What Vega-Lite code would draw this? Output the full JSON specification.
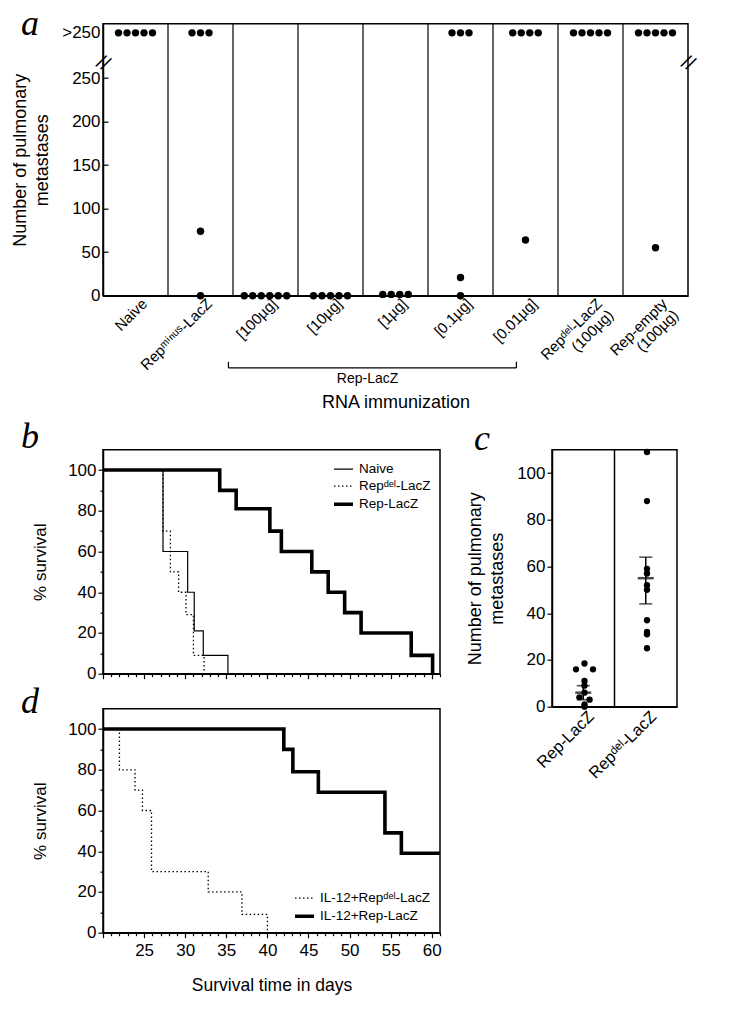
{
  "$schema": "https://vega.github.io/schema/vega-lite/v6.json",
  "background": "white",
  "padding": {"left": 10, "top": 4.7, "right": 10, "bottom": 10},
  "config": {
    "font": "Liberation Sans",
    "view": {"stroke": "black", "strokeWidth": 1.5},
    "axis": {"domainColor": "black", "domainWidth": 1.5, "tickColor": "black", "tickWidth": 1.2, "labelColor": "black", "titleColor": "black", "grid": false, "labelFont": "Liberation Sans", "titleFont": "Liberation Sans", "titleFontWeight": "normal", "labelFontSize": 17, "titleFontSize": 18, "labelOverlap": false, "labelFlush": false},
    "legend": {"labelFont": "Liberation Sans", "labelColor": "black", "labelFontSize": 13.5, "symbolType": "stroke", "symbolStrokeColor": "black", "symbolSize": 360, "rowPadding": 0, "labelOffset": 4, "padding": 0},
    "title": {"font": "Liberation Serif", "fontStyle": "italic", "fontWeight": "normal", "fontSize": 36, "anchor": "start", "frame": "group", "baseline": "alphabetic", "color": "black"}
  },
  "datasets": {
    "a_points": [
      {"group": "Naive", "n": 302, "slot": -2}, {"group": "Naive", "n": 302, "slot": -1}, {"group": "Naive", "n": 302, "slot": 0}, {"group": "Naive", "n": 302, "slot": 1}, {"group": "Naive", "n": 302, "slot": 2},
      {"group": "Repᵐⁱⁿᵘˢ-LacZ", "n": 302, "slot": -1}, {"group": "Repᵐⁱⁿᵘˢ-LacZ", "n": 302, "slot": 0}, {"group": "Repᵐⁱⁿᵘˢ-LacZ", "n": 302, "slot": 1}, {"group": "Repᵐⁱⁿᵘˢ-LacZ", "n": 74, "slot": 0}, {"group": "Repᵐⁱⁿᵘˢ-LacZ", "n": 0, "slot": 0},
      {"group": "[100µg]", "n": 0, "slot": -2.5}, {"group": "[100µg]", "n": 0, "slot": -1.5}, {"group": "[100µg]", "n": 0, "slot": -0.5}, {"group": "[100µg]", "n": 0, "slot": 0.5}, {"group": "[100µg]", "n": 0, "slot": 1.5}, {"group": "[100µg]", "n": 0, "slot": 2.5},
      {"group": "[10µg]", "n": 0, "slot": -2}, {"group": "[10µg]", "n": 0, "slot": -1}, {"group": "[10µg]", "n": 0, "slot": 0}, {"group": "[10µg]", "n": 0, "slot": 1}, {"group": "[10µg]", "n": 0, "slot": 2},
      {"group": "[1µg]", "n": 1.5, "slot": -1.5}, {"group": "[1µg]", "n": 1.5, "slot": -0.5}, {"group": "[1µg]", "n": 1.5, "slot": 0.5}, {"group": "[1µg]", "n": 1.5, "slot": 1.5},
      {"group": "[0.1µg]", "n": 302, "slot": -1}, {"group": "[0.1µg]", "n": 302, "slot": 0}, {"group": "[0.1µg]", "n": 302, "slot": 1}, {"group": "[0.1µg]", "n": 21, "slot": 0}, {"group": "[0.1µg]", "n": 0, "slot": 0},
      {"group": "[0.01µg]", "n": 302, "slot": -1.5}, {"group": "[0.01µg]", "n": 302, "slot": -0.5}, {"group": "[0.01µg]", "n": 302, "slot": 0.5}, {"group": "[0.01µg]", "n": 302, "slot": 1.5}, {"group": "[0.01µg]", "n": 64, "slot": 0},
      {"group": "Repᵈᵉˡ-LacZ\n(100µg)", "n": 302, "slot": -2}, {"group": "Repᵈᵉˡ-LacZ\n(100µg)", "n": 302, "slot": -1}, {"group": "Repᵈᵉˡ-LacZ\n(100µg)", "n": 302, "slot": 0}, {"group": "Repᵈᵉˡ-LacZ\n(100µg)", "n": 302, "slot": 1}, {"group": "Repᵈᵉˡ-LacZ\n(100µg)", "n": 302, "slot": 2},
      {"group": "Rep-empty\n(100µg)", "n": 302, "slot": -2}, {"group": "Rep-empty\n(100µg)", "n": 302, "slot": -1}, {"group": "Rep-empty\n(100µg)", "n": 302, "slot": 0}, {"group": "Rep-empty\n(100µg)", "n": 302, "slot": 1}, {"group": "Rep-empty\n(100µg)", "n": 302, "slot": 2}, {"group": "Rep-empty\n(100µg)", "n": 55, "slot": 0}
    ],
    "a_div": [
      {"group": "Repᵐⁱⁿᵘˢ-LacZ"}, {"group": "[100µg]"}, {"group": "[10µg]"}, {"group": "[1µg]"}, {"group": "[0.1µg]"}, {"group": "[0.01µg]"}, {"group": "Repᵈᵉˡ-LacZ\n(100µg)"}, {"group": "Rep-empty\n(100µg)"}
    ],
    "a_bracket": [
      {"pos": 1.93, "pos2": 6.36, "n": -83, "n2": -83},
      {"pos": 1.93, "pos2": 1.93, "n": -83, "n2": -76},
      {"pos": 6.36, "pos2": 6.36, "n": -83, "n2": -76}
    ],
    "a_bracket_label": [{"pos": 4.07, "n": -96, "label": "Rep-LacZ"}],
    "a_breaks": [{"pos": 0, "n": 267}, {"pos": 9, "n": 267}],
    "b_surv": [
      {"group": "Naive", "day": 20, "survival": 100}, {"group": "Naive", "day": 27.3, "survival": 60}, {"group": "Naive", "day": 30.3, "survival": 40}, {"group": "Naive", "day": 31.1, "survival": 21}, {"group": "Naive", "day": 32.2, "survival": 9}, {"group": "Naive", "day": 35.2, "survival": 0},
      {"group": "Repᵈᵉˡ-LacZ", "day": 20, "survival": 100}, {"group": "Repᵈᵉˡ-LacZ", "day": 27.3, "survival": 70}, {"group": "Repᵈᵉˡ-LacZ", "day": 28.2, "survival": 50}, {"group": "Repᵈᵉˡ-LacZ", "day": 29.2, "survival": 40}, {"group": "Repᵈᵉˡ-LacZ", "day": 30.1, "survival": 29}, {"group": "Repᵈᵉˡ-LacZ", "day": 31, "survival": 9}, {"group": "Repᵈᵉˡ-LacZ", "day": 32.3, "survival": 0},
      {"group": "Rep-LacZ", "day": 20, "survival": 100}, {"group": "Rep-LacZ", "day": 34.2, "survival": 90}, {"group": "Rep-LacZ", "day": 36.2, "survival": 81}, {"group": "Rep-LacZ", "day": 40.3, "survival": 70}, {"group": "Rep-LacZ", "day": 41.7, "survival": 60}, {"group": "Rep-LacZ", "day": 45.4, "survival": 50}, {"group": "Rep-LacZ", "day": 47.4, "survival": 40}, {"group": "Rep-LacZ", "day": 49.4, "survival": 30}, {"group": "Rep-LacZ", "day": 51.4, "survival": 20}, {"group": "Rep-LacZ", "day": 57.5, "survival": 9}, {"group": "Rep-LacZ", "day": 60.1, "survival": 0}
    ],
    "d_surv": [
      {"group": "IL-12+Repᵈᵉˡ-LacZ", "day": 20, "survival": 100}, {"group": "IL-12+Repᵈᵉˡ-LacZ", "day": 22, "survival": 80}, {"group": "IL-12+Repᵈᵉˡ-LacZ", "day": 23.9, "survival": 70}, {"group": "IL-12+Repᵈᵉˡ-LacZ", "day": 24.8, "survival": 60}, {"group": "IL-12+Repᵈᵉˡ-LacZ", "day": 25.9, "survival": 30}, {"group": "IL-12+Repᵈᵉˡ-LacZ", "day": 32.8, "survival": 20}, {"group": "IL-12+Repᵈᵉˡ-LacZ", "day": 36.9, "survival": 9}, {"group": "IL-12+Repᵈᵉˡ-LacZ", "day": 40, "survival": 0},
      {"group": "IL-12+Rep-LacZ", "day": 20, "survival": 100}, {"group": "IL-12+Rep-LacZ", "day": 42, "survival": 90}, {"group": "IL-12+Rep-LacZ", "day": 43.1, "survival": 79}, {"group": "IL-12+Rep-LacZ", "day": 46.2, "survival": 69}, {"group": "IL-12+Rep-LacZ", "day": 54.3, "survival": 49}, {"group": "IL-12+Rep-LacZ", "day": 56.3, "survival": 39}, {"group": "IL-12+Rep-LacZ", "day": 61, "survival": 39}
    ],
    "c_points": [
      {"group": "Rep-LacZ", "metastases": 18.5, "jitter": 0}, {"group": "Rep-LacZ", "metastases": 16, "jitter": -1}, {"group": "Rep-LacZ", "metastases": 16, "jitter": 1}, {"group": "Rep-LacZ", "metastases": 11, "jitter": 0}, {"group": "Rep-LacZ", "metastases": 9, "jitter": 0}, {"group": "Rep-LacZ", "metastases": 6, "jitter": 0}, {"group": "Rep-LacZ", "metastases": 4, "jitter": -0.6}, {"group": "Rep-LacZ", "metastases": 3, "jitter": 0.6}, {"group": "Rep-LacZ", "metastases": 1, "jitter": 0}, {"group": "Rep-LacZ", "metastases": 0, "jitter": 0},
      {"group": "Repᵈᵉˡ-LacZ", "metastases": 109, "jitter": 0}, {"group": "Repᵈᵉˡ-LacZ", "metastases": 88, "jitter": 0}, {"group": "Repᵈᵉˡ-LacZ", "metastases": 59, "jitter": 0}, {"group": "Repᵈᵉˡ-LacZ", "metastases": 57, "jitter": 0}, {"group": "Repᵈᵉˡ-LacZ", "metastases": 52, "jitter": 0}, {"group": "Repᵈᵉˡ-LacZ", "metastases": 50, "jitter": 0}, {"group": "Repᵈᵉˡ-LacZ", "metastases": 37, "jitter": 0}, {"group": "Repᵈᵉˡ-LacZ", "metastases": 32, "jitter": 0}, {"group": "Repᵈᵉˡ-LacZ", "metastases": 31, "jitter": 0}, {"group": "Repᵈᵉˡ-LacZ", "metastases": 25, "jitter": 0}
    ],
    "c_summary": [
      {"group": "Rep-LacZ", "mean": 6, "lo": 3, "hi": 9},
      {"group": "Repᵈᵉˡ-LacZ", "mean": 55, "lo": 44, "hi": 64}
    ],
    "c_div": [{"group": "Repᵈᵉˡ-LacZ"}]
  },
  "bounds": "flush",
  "spacing": 154,
  "vconcat": [
    {
      "width": 585,
      "height": 272,
      "title": {"text": "a", "dx": -82, "offset": -20},
      "layer": [
        {
          "data": {"name": "a_div"},
          "mark": {"type": "rule", "color": "black", "strokeWidth": 1.2},
          "encoding": {
            "x": {"field": "group", "type": "nominal", "bandPosition": 0, "sort": null, "scale": {"domain": ["Naive", "Repᵐⁱⁿᵘˢ-LacZ", "[100µg]", "[10µg]", "[1µg]", "[0.1µg]", "[0.01µg]", "Repᵈᵉˡ-LacZ\n(100µg)", "Rep-empty\n(100µg)"], "paddingInner": 0, "paddingOuter": 0}, "axis": null}
          }
        },
        {
          "data": {"name": "a_points"},
          "mark": {"type": "circle", "color": "black", "opacity": 1, "size": 55},
          "encoding": {
            "x": {"field": "group", "type": "nominal", "sort": null, "scale": {"domain": ["Naive", "Repᵐⁱⁿᵘˢ-LacZ", "[100µg]", "[10µg]", "[1µg]", "[0.1µg]", "[0.01µg]", "Repᵈᵉˡ-LacZ\n(100µg)", "Rep-empty\n(100µg)"], "paddingInner": 0, "paddingOuter": 0},
              "axis": {"title": "RNA immunization", "titleFontSize": 18, "titlePadding": 20, "labelAngle": -45, "labelAlign": "right", "labelBaseline": "middle", "labelFontSize": 15, "labelPadding": 5, "labelOffset": 9, "ticks": false, "labelExpr": "split(datum.label, '\\n')", "labelLimit": 300, "labelLineHeight": 16}},
            "xOffset": {"field": "slot", "type": "quantitative", "scale": {"domain": [-3, 3], "range": [7, 58]}},
            "y": {"field": "n", "type": "quantitative", "scale": {"domain": [0, 312.5], "nice": false, "zero": false},
              "axis": {"title": ["Number of pulmonary", "metastases"], "titleFontSize": 18, "titleLineHeight": 22, "titlePadding": 10, "values": [0, 50, 100, 150, 200, 250, 302], "labelExpr": "datum.value > 280 ? '>250' : datum.label", "tickSize": -5, "labelPadding": 8, "labelFontSize": 17, "tickOpacity": {"condition": {"test": "datum.value > 280", "value": 0}, "value": 1}}}
          }
        },
        {
          "data": {"name": "a_bracket"},
          "mark": {"type": "rule", "color": "black", "strokeWidth": 1.2},
          "encoding": {
            "x": {"field": "pos", "type": "quantitative", "scale": {"domain": [0, 9], "nice": false, "zero": false}, "axis": null},
            "x2": {"field": "pos2"},
            "y": {"field": "n", "type": "quantitative", "scale": {"domain": [0, 312.5], "nice": false, "zero": false}},
            "y2": {"field": "n2"}
          }
        },
        {
          "data": {"name": "a_bracket_label"},
          "mark": {"type": "text", "fontSize": 14, "color": "black", "align": "center", "baseline": "middle"},
          "encoding": {
            "x": {"field": "pos", "type": "quantitative", "scale": {"domain": [0, 9], "nice": false, "zero": false}, "axis": null},
            "y": {"field": "n", "type": "quantitative", "scale": {"domain": [0, 312.5], "nice": false, "zero": false}},
            "text": {"field": "label"}
          }
        },
        {
          "data": {"name": "a_breaks"},
          "mark": {"type": "text", "text": "//", "fontSize": 20, "angle": 30, "color": "black", "align": "center", "baseline": "middle"},
          "encoding": {
            "x": {"field": "pos", "type": "quantitative", "scale": {"domain": [0, 9], "nice": false, "zero": false}, "axis": null},
            "y": {"field": "n", "type": "quantitative", "scale": {"domain": [0, 312.5], "nice": false, "zero": false}}
          }
        }
      ],
      "resolve": {"scale": {"x": "independent"}, "axis": {"x": "independent"}}
    },
    {
      "bounds": "flush",
      "spacing": 449,
      "hconcat": [
        {
          "bounds": "flush",
          "spacing": 35,
          "resolve": {"scale": {"strokeDash": "independent", "strokeWidth": "independent"}, "legend": {"strokeDash": "independent", "strokeWidth": "independent"}},
          "vconcat": [
            {
              "width": 337,
              "height": 224,
              "title": {"text": "b", "dx": -82, "offset": -6},
              "data": {"name": "b_surv"},
              "mark": {"type": "line", "interpolate": "step-after", "color": "black"},
              "encoding": {
                "x": {"field": "day", "type": "quantitative", "scale": {"domain": [20, 61], "nice": false, "zero": false},
                  "axis": {"title": null, "labels": false, "values": [20,21,22,23,24,25,26,27,28,29,30,31,32,33,34,35,36,37,38,39,40,41,42,43,44,45,46,47,48,49,50,51,52,53,54,55,56,57,58,59,60,61], "tickSize": {"condition": {"test": "datum.value % 5 === 0", "value": 5}, "value": 3}}},
                "y": {"field": "survival", "type": "quantitative", "scale": {"domain": [0, 110], "nice": false},
                  "axis": {"title": "% survival", "titleFontSize": 17, "titlePadding": 18, "values": [0,10,20,30,40,50,60,70,80,90,100], "labelExpr": "datum.value % 20 === 0 ? datum.label : ''", "labelPadding": 2, "tickSize": {"condition": {"test": "datum.value % 20 === 0", "value": 5}, "value": 3}}},
                "strokeDash": {"field": "group", "type": "nominal", "scale": {"domain": ["Naive", "Repᵈᵉˡ-LacZ", "Rep-LacZ"], "range": [[1, 0], [1.5, 2.5], [1, 0]]}, "legend": {"title": null, "orient": "top-right", "offset": 9}},
                "strokeWidth": {"field": "group", "type": "nominal", "scale": {"type": "ordinal", "domain": ["Naive", "Repᵈᵉˡ-LacZ", "Rep-LacZ"], "range": [1.2, 1.3, 3.6]}, "legend": {"title": null, "orient": "top-right", "offset": 9}}
              }
            },
            {
              "width": 337,
              "height": 224,
              "title": {"text": "d", "dx": -82, "offset": -12},
              "data": {"name": "d_surv"},
              "mark": {"type": "line", "interpolate": "step-after", "color": "black"},
              "encoding": {
                "x": {"field": "day", "type": "quantitative", "scale": {"domain": [20, 61], "nice": false, "zero": false},
                  "axis": {"title": "Survival time in days", "titleFontSize": 17.5, "titlePadding": 18, "labelPadding": 5, "values": [20,21,22,23,24,25,26,27,28,29,30,31,32,33,34,35,36,37,38,39,40,41,42,43,44,45,46,47,48,49,50,51,52,53,54,55,56,57,58,59,60,61], "labelExpr": "datum.value % 5 === 0 && datum.value > 20 ? datum.label : ''", "tickSize": {"condition": {"test": "datum.value % 5 === 0", "value": 5}, "value": 3}}},
                "y": {"field": "survival", "type": "quantitative", "scale": {"domain": [0, 110], "nice": false},
                  "axis": {"title": "% survival", "titleFontSize": 17, "titlePadding": 18, "values": [0,10,20,30,40,50,60,70,80,90,100], "labelExpr": "datum.value % 20 === 0 ? datum.label : ''", "labelPadding": 2, "tickSize": {"condition": {"test": "datum.value % 20 === 0", "value": 5}, "value": 3}}},
                "strokeDash": {"field": "group", "type": "nominal", "scale": {"domain": ["IL-12+Repᵈᵉˡ-LacZ", "IL-12+Rep-LacZ"], "range": [[1.5, 2.5], [1, 0]]}, "legend": {"title": null, "orient": "bottom-right", "offset": 9}},
                "strokeWidth": {"field": "group", "type": "nominal", "scale": {"type": "ordinal", "domain": ["IL-12+Repᵈᵉˡ-LacZ", "IL-12+Rep-LacZ"], "range": [1.3, 3.6]}, "legend": {"title": null, "orient": "bottom-right", "offset": 9}}
              }
            }
          ]
        },
        {
          "width": 125,
          "height": 257,
          "title": {"text": "c", "dx": -78, "offset": -9},
          "layer": [
            {
              "data": {"name": "c_div"},
              "mark": {"type": "rule", "color": "black", "strokeWidth": 1.5},
              "encoding": {
                "x": {"field": "group", "type": "nominal", "bandPosition": 0, "sort": null, "scale": {"domain": ["Rep-LacZ", "Repᵈᵉˡ-LacZ"], "paddingInner": 0, "paddingOuter": 0}}
              }
            },
            {
              "data": {"name": "c_points"},
              "mark": {"type": "circle", "color": "black", "opacity": 1, "size": 40},
              "encoding": {
                "x": {"field": "group", "type": "nominal", "sort": null, "scale": {"domain": ["Rep-LacZ", "Repᵈᵉˡ-LacZ"], "paddingInner": 0, "paddingOuter": 0},
                  "axis": {"title": null, "labelAngle": -45, "labelAlign": "right", "labelBaseline": "middle", "labelFontSize": 16.5, "labelPadding": 7, "labelOffset": 8, "ticks": false}},
                "xOffset": {"field": "jitter", "type": "quantitative", "scale": {"domain": [-2, 2], "range": [21.25, 41.25]}},
                "y": {"field": "metastases", "type": "quantitative", "scale": {"domain": [0, 110], "nice": false},
                  "axis": {"title": ["Number of pulmonary", "metastases"], "titleFontSize": 18, "titleLineHeight": 22, "titlePadding": 10, "values": [0,10,20,30,40,50,60,70,80,90,100], "labelExpr": "datum.value % 20 === 0 ? datum.label : ''", "labelPadding": 2, "tickSize": {"condition": {"test": "datum.value % 20 === 0", "value": 5}, "value": 3}}}
              }
            },
            {
              "data": {"name": "c_summary"},
              "mark": {"type": "rule", "color": "black", "strokeWidth": 1.5},
              "encoding": {
                "x": {"field": "group", "type": "nominal", "sort": null},
                "y": {"field": "lo", "type": "quantitative"},
                "y2": {"field": "hi"}
              }
            },
            {
              "data": {"name": "c_summary"},
              "mark": {"type": "tick", "color": "black", "thickness": 1.5, "size": 13},
              "encoding": {
                "x": {"field": "group", "type": "nominal", "sort": null},
                "y": {"field": "lo", "type": "quantitative"}
              }
            },
            {
              "data": {"name": "c_summary"},
              "mark": {"type": "tick", "color": "black", "thickness": 1.5, "size": 13},
              "encoding": {
                "x": {"field": "group", "type": "nominal", "sort": null},
                "y": {"field": "hi", "type": "quantitative"}
              }
            },
            {
              "data": {"name": "c_summary"},
              "mark": {"type": "tick", "color": "black", "thickness": 2.5, "size": 16},
              "encoding": {
                "x": {"field": "group", "type": "nominal", "sort": null},
                "y": {"field": "mean", "type": "quantitative"}
              }
            }
          ]
        }
      ]
    }
  ]
}
